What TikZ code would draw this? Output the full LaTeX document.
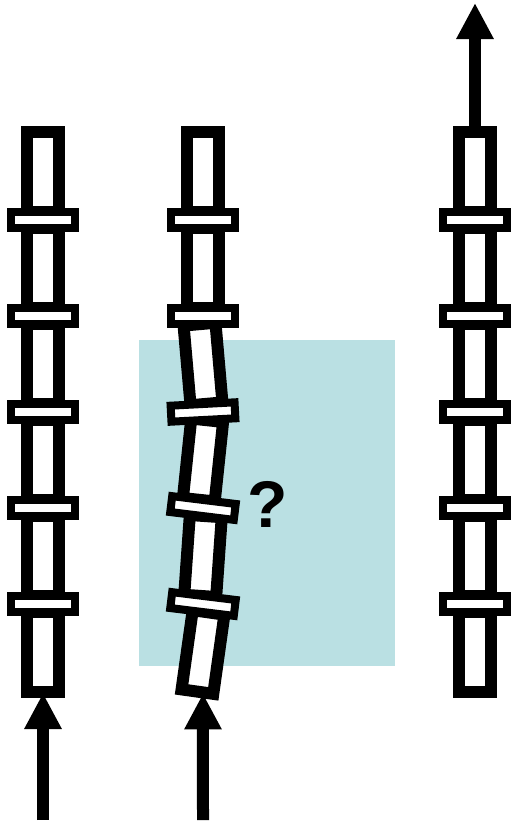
\documentclass[tikz,border=0pt]{standalone}
\usepackage{fontspec}
\setmainfont{Liberation Sans}
\usetikzlibrary{arrows.meta}
\definecolor{boxteal}{RGB}{186,224,227}

\begin{document}
\begin{tikzpicture}[x=1pt, y=-1pt, >={Triangle[width=35pt,length=36pt]},
  seg/.style={draw=black, fill=white, line width=12pt, inner sep=0pt, minimum width=32pt, minimum height=80pt},
  bar/.style={draw=black, fill=white, line width=8pt, inner sep=0pt, minimum width=64pt, minimum height=16pt},
  flow/.style={->, line width=12pt, shorten >=-5pt}]

  \useasboundingbox (0, 0) rectangle (512, 823);

  % Define the shaded region
  \node[fill=boxteal, inner sep=0pt, minimum width=256pt, minimum height=326pt] (region) at (267, 503) {};

  % Define coordinates for nodes
  \node[seg] (L1) at (43, 172) {};
  \node[seg] (L2) at (43, 268) {};
  \node[seg] (L3) at (43, 364) {};
  \node[seg] (L4) at (43, 460) {};
  \node[seg] (L5) at (43, 556) {};
  \node[seg] (L6) at (43, 652) {};
  \node[bar] (Lb1) at (43, 220) {};
  \node[bar] (Lb2) at (43, 316) {};
  \node[bar] (Lb3) at (43, 412) {};
  \node[bar] (Lb4) at (43, 508) {};
  \node[bar] (Lb5) at (43, 604) {};

  \node[seg] (M1) at (203, 172) {};
  \node[seg] (M2) at (203, 268) {};
  \node[seg, rotate=5] (M3) at (203, 364) {};
  \node[seg, rotate=-6] (M4) at (203, 460) {};
  \node[seg, rotate=-4] (M5) at (203, 556) {};
  \node[seg, rotate=-8] (M6) at (203, 652) {};
  \node[bar] (Mb1) at (203, 220) {};
  \node[bar] (Mb2) at (203, 316) {};
  \node[bar, rotate=3] (Mb3) at (203, 412) {};
  \node[bar, rotate=-7] (Mb4) at (203, 508) {};
  \node[bar, rotate=-7] (Mb5) at (203, 604) {};

  \node[seg] (R1) at (475, 172) {};
  \node[seg] (R2) at (475, 268) {};
  \node[seg] (R3) at (475, 364) {};
  \node[seg] (R4) at (475, 460) {};
  \node[seg] (R5) at (475, 556) {};
  \node[seg] (R6) at (475, 652) {};
  \node[bar] (Rb1) at (475, 220) {};
  \node[bar] (Rb2) at (475, 316) {};
  \node[bar] (Rb3) at (475, 412) {};
  \node[bar] (Rb4) at (475, 508) {};
  \node[bar] (Rb5) at (475, 604) {};

  \node[inner sep=0pt, font=\fontsize{66pt}{66pt}\selectfont\bfseries] (query) at (267.5, 504.5) {?};

  \coordinate (inL) at (43, 820);
  \coordinate (inM) at (203, 820);
  \coordinate (outR) at (475, 3);

  % Draw arrows between nodes
  \draw[flow] (inL) to (L6);
  \draw[flow] (inM) to (M6);
  \draw[flow, shorten >=0pt] (R1) to (outR);
\end{tikzpicture}
\end{document}
